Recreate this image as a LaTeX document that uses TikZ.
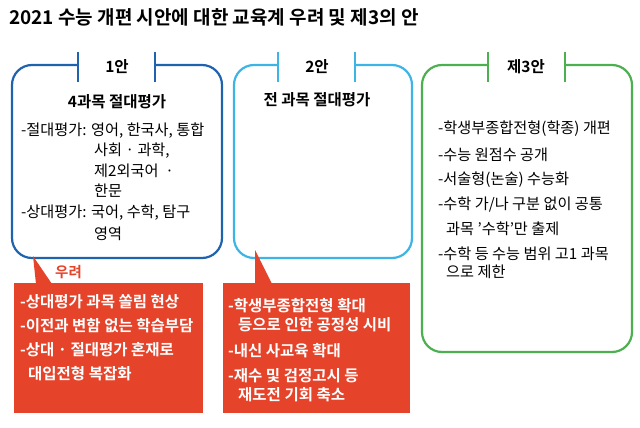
\documentclass[tikz,border=0pt]{standalone}
\usepackage{fontspec}
\setmainfont{Noto Sans CJK KR}
\newfontfamily\kb{Noto Sans CJK KR Bold}
\definecolor{cA}{HTML}{1F63AE}
\definecolor{cB}{HTML}{3DB4E6}
\definecolor{cC}{HTML}{4CAF50}
\definecolor{cR}{HTML}{E5432A}
\tikzset{box/.style={line width=2.2pt,rounded corners=20pt},
 tick/.style={line width=2.2pt},
 t/.style={anchor=west,inner sep=0pt,font=\fontsize{15.2}{16}\selectfont},
 tw/.style={anchor=west,inner sep=0pt,text=white,font=\kb\fontsize{15.5}{16}\selectfont},
 hd/.style={inner sep=0pt,font=\kb\fontsize{15.5}{17}\selectfont}}
\begin{document}
\begin{tikzpicture}[x=1pt,y=-1pt]
\useasboundingbox (0,0) rectangle (640,428);
\node[anchor=west,inner sep=0pt,font=\kb\fontsize{19}{21}\selectfont] (title) at (9,17) {2021 수능 개편 시안에 대한 교육계 우려 및 제3의 안};
% box 1
\draw[box,cA] (78,65) -- (12,65) -- (12,258) -- (222,258) -- (222,65) -- (155,65);
\draw[tick,cA] (78,52) -- (78,82); \draw[tick,cA] (155,52) -- (155,82);
\node[hd] (h1) at (117,67) {1안};
\node[hd] (s1) at (117,102) {4과목 절대평가};
\node[t] at (21,131) {-절대평가: 영어, 한국사, 통합};
\node[t] at (94,151) {사회 · 과학,};
\node[t] at (94,171) {제2외국어 \ ·};
\node[t] at (94,191) {한문};
\node[t] at (21,213) {-상대평가: 국어, 수학, 탐구};
\node[t] at (94,234) {영역};
% box 2
\draw[box,cB] (278,65) -- (234,65) -- (234,258) -- (412,258) -- (412,65) -- (355,65);
\draw[tick,cB] (278,52) -- (278,82); \draw[tick,cB] (355,52) -- (355,82);
\node[hd] (h2) at (317,67) {2안};
\node[hd] (s2) at (317,100) {전 과목 절대평가};
% box 3
\draw[box,cC] (488,65) -- (422,65) -- (422,352) -- (632,352) -- (632,65) -- (565,65);
\draw[tick,cC] (488,52) -- (488,82); \draw[tick,cC] (565,52) -- (565,82);
\node[hd] (h3) at (526,67) {제3안};
\node[t] at (438,129) {-학생부종합전형(학종) 개편};
\node[t] at (438,155) {-수능 원점수 공개};
\node[t] at (438,180) {-서술형(논술) 수능화};
\node[t] at (438,205) {-수학 가/나 구분 없이 공통};
\node[t] at (446,229) {과목 '수학'만 출제};
\node[t] at (438,254) {-수학 등 수능 범위 고1 과목};
\node[t] at (446,272) {으로 제한};
% red 1
\fill[cR] (33,256) -- (52,284) -- (36,284) -- cycle;
\fill[cR] (14,283) rectangle (203,413);
\node[anchor=west,inner sep=0pt,text=cR,font=\kb\fontsize{14.5}{16}\selectfont] (w) at (55,272) {우려};
\node[tw] at (20,302) {-상대평가 과목 쏠림 현상};
\node[tw] at (20,326) {-이전과 변함 없는 학습부담};
\node[tw] at (20,350) {-상대 · 절대평가 혼재로};
\node[tw] at (28,374) {대입전형 복잡화};
% red 2
\fill[cR] (255,250) -- (272,284) -- (255,284) -- cycle;
\fill[cR] (223,283) rectangle (410,413);
\node[tw] at (228,306) {-학생부종합전형 확대};
\node[tw] at (238,325) {등으로 인한 공정성 시비};
\node[tw] at (228,351) {-내신 사교육 확대};
\node[tw] at (228,376) {-재수 및 검정고시 등};
\node[tw] at (238,395) {재도전 기회 축소};
\end{tikzpicture}
\end{document}
